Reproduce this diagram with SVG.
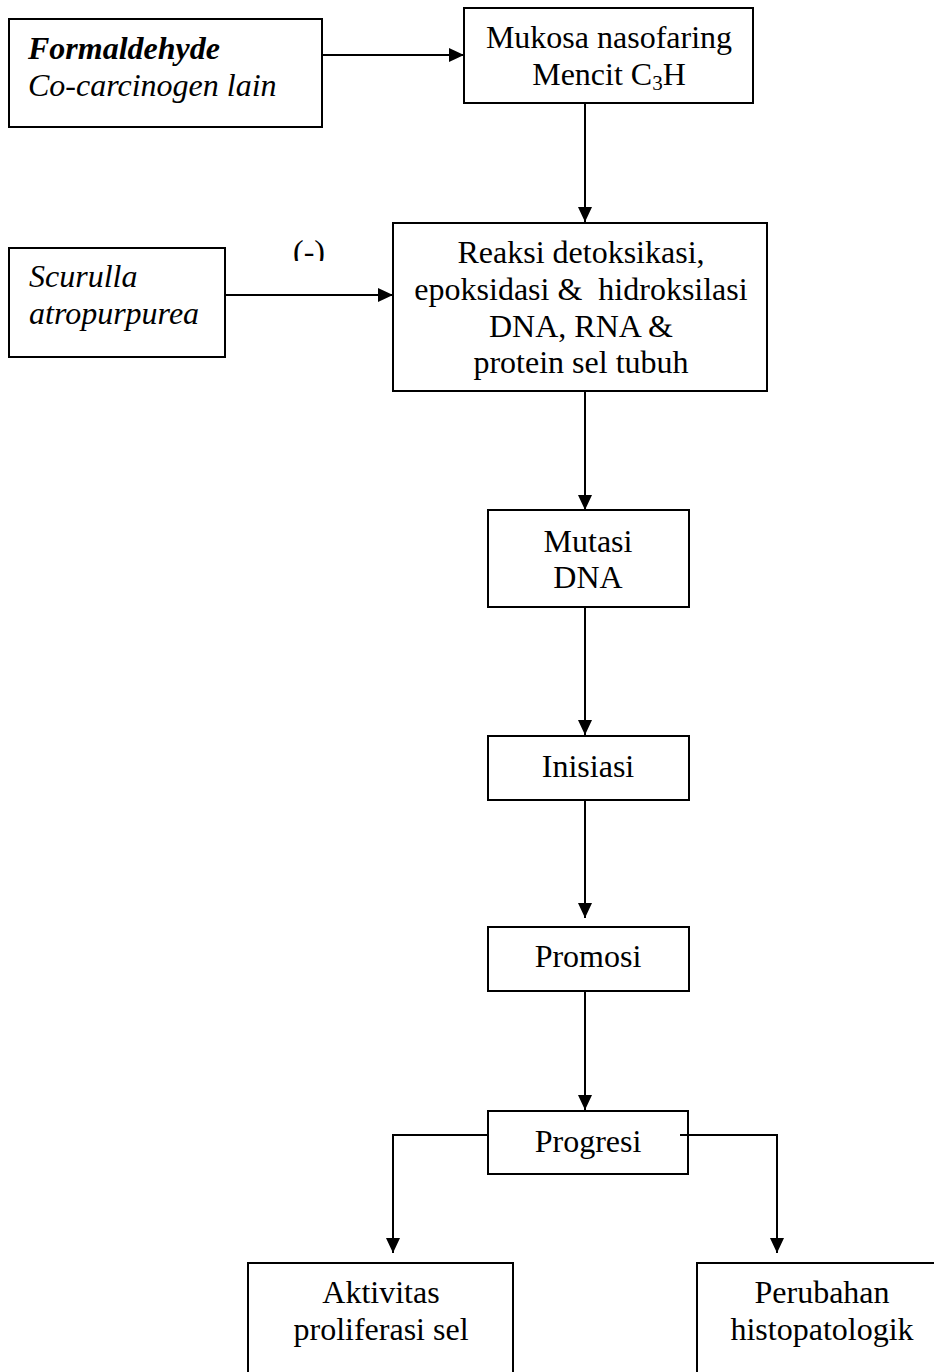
<svg xmlns="http://www.w3.org/2000/svg" width="934" height="1372" viewBox="0 0 934 1372">
<style>
.box{fill:#fff;stroke:#000;stroke-width:2}
.t{font-family:"Liberation Serif","Times New Roman",serif;font-size:32px;fill:#000}
.c{text-anchor:middle}
.i{font-style:italic}
.b{font-weight:bold}
.ln{fill:none;stroke:#000;stroke-width:2}
</style>
<defs>
<marker id="ah" markerUnits="userSpaceOnUse" markerWidth="15" markerHeight="14" refX="15" refY="7" orient="auto">
<path d="M0,0 L15,7 L0,14 z" fill="#000"/>
</marker>
<clipPath id="clipm"><rect x="280" y="230" width="60" height="31"/></clipPath>
</defs>
<g id="formaldehyde">
<rect class="box" x="9" y="19" width="313" height="108"/>
<text class="t i b" x="28" y="59">Formaldehyde</text>
<text class="t i" x="28" y="96">Co-carcinogen lain</text>
</g>
<g id="mukosa">
<rect class="box" x="464" y="8" width="289" height="95"/>
<text class="t c" x="609" y="48">Mukosa nasofaring</text>
<text class="t c" x="609" y="85">Mencit C<tspan font-size="21" dy="5">3</tspan><tspan dy="-5">H</tspan></text>
</g>
<g id="scurulla">
<rect class="box" x="9" y="248" width="216" height="109"/>
<text class="t i" x="29" y="287">Scurulla</text>
<text class="t i" x="29" y="324">atropurpurea</text>
</g>
<g id="reaksi">
<rect class="box" x="393" y="223" width="374" height="168"/>
<text class="t c" x="581" y="263">Reaksi detoksikasi,</text>
<text class="t c" x="581" y="300" xml:space="preserve">epoksidasi &amp;  hidroksilasi</text>
<text class="t c" x="581" y="337">DNA, RNA &amp;</text>
<text class="t c" x="581" y="373">protein sel tubuh</text>
</g>
<g id="mutasi">
<rect class="box" x="488" y="510" width="201" height="97"/>
<text class="t c" x="588" y="552">Mutasi</text>
<text class="t c" x="588" y="588">DNA</text>
</g>
<g id="inisiasi">
<rect class="box" x="488" y="736" width="201" height="64"/>
<text class="t c" x="588" y="777">Inisiasi</text>
</g>
<g id="promosi">
<rect class="box" x="488" y="927" width="201" height="64"/>
<text class="t c" x="588" y="967">Promosi</text>
</g>
<g id="progresi">
<rect class="box" x="488" y="1111" width="200" height="63"/>
<text class="t c" x="588" y="1152">Progresi</text>
</g>
<g id="aktivitas">
<rect class="box" x="248" y="1263" width="265" height="140"/>
<text class="t c" x="381" y="1303">Aktivitas</text>
<text class="t c" x="381" y="1340">proliferasi sel</text>
</g>
<g id="perubahan">
<rect class="box" x="697" y="1263" width="270" height="140"/>
<text class="t c" x="822" y="1303">Perubahan</text>
<text class="t c" x="822" y="1340">histopatologik</text>
</g>
<g id="connectors">
<line class="ln" x1="322" y1="55" x2="464" y2="55" marker-end="url(#ah)"/>
<line class="ln" x1="585" y1="103" x2="585" y2="222" marker-end="url(#ah)"/>
<line class="ln" x1="225" y1="295" x2="393" y2="295" marker-end="url(#ah)"/>
<line class="ln" x1="585" y1="391" x2="585" y2="510" marker-end="url(#ah)"/>
<line class="ln" x1="585" y1="607" x2="585" y2="735" marker-end="url(#ah)"/>
<line class="ln" x1="585" y1="800" x2="585" y2="918" marker-end="url(#ah)"/>
<line class="ln" x1="585" y1="991" x2="585" y2="1110" marker-end="url(#ah)"/>
<path class="ln" d="M488,1135 H393 V1253" marker-end="url(#ah)"/>
<path class="ln" d="M680,1135 H777 V1253" marker-end="url(#ah)"/>
<text class="t c" x="309" y="262" clip-path="url(#clipm)">(-)</text>
</g>
</svg>
